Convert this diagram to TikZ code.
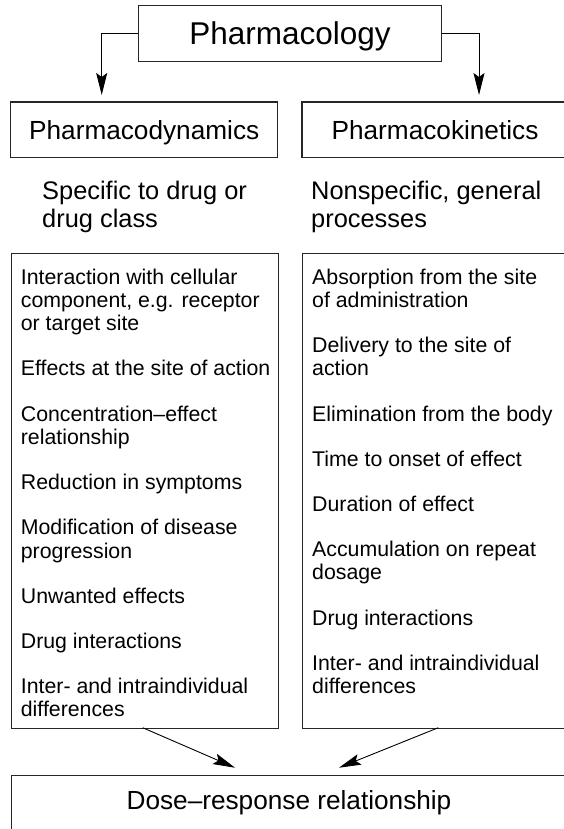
\documentclass[tikz,border=0pt]{standalone}
\usepackage{fontspec}
\setmainfont{Liberation Sans}
\usetikzlibrary{arrows.meta}
\begin{document}
\begin{tikzpicture}[x=1pt,y=-1pt,
  box/.style={draw=black!85, line width=1.1pt, inner sep=0pt, rectangle},
  flow/.style={draw=black, line width=0.9pt, -{Stealth[length=22pt,width=11pt,inset=4pt]}},
  titletext/.style={font=\fontsize{31.5}{36}\selectfont, text height=23pt, text depth=0pt},
  headtext/.style={font=\fontsize{26.2}{30}\selectfont, text height=18.8pt, text depth=0pt},
  subtext/.style={font=\fontsize{25.4}{28.4}\selectfont, align=left, anchor=base west, inner sep=0pt},
  itemtext/.style={font=\fontsize{21.3}{23.3}\selectfont, align=left, anchor=base west, inner sep=0pt},
]
\useasboundingbox (0,0) rectangle (564,829);

% top level
\node[box, titletext, minimum width=302.6pt, minimum height=55.6pt] (pharm) at (290,33.5) {Pharmacology};

% the two branches
\node[box, headtext, minimum width=267pt, minimum height=55.7pt] (pd) at (144.2,129.85) {Pharmacodynamics};
\node[box, headtext, minimum width=266pt, minimum height=55.7pt] (pk) at (435,129.85) {Pharmacokinetics};

\coordinate (pdin) at (101.7,95);
\coordinate (pkin) at (479,95);
\draw[flow] (pharm.west) -| (pdin);
\draw[flow] (pharm.east) -| (pkin);

% short characterisations (anchored on the baseline of their last line)
\node[subtext] (pdsub) at (42,227.7) {Specific to drug or\\drug class};
\node[subtext] (pksub) at (311,227.7) {Nonspecific, general\\processes};

% list boxes
\node[box, anchor=north west, minimum width=267pt, minimum height=475pt] (pdlist) at (10.7,252.7) {};
\node[box, anchor=north west, minimum width=266pt, minimum height=475pt] (pklist) at (302,252.7) {};

% pharmacodynamic items (anchored on the baseline of their last line)
\node[itemtext] (pd1) at (20.7,330.6) {Interaction with cellular\\component, e.g. receptor\\or target site};
\node[itemtext] (pd2) at (20.7,375.8) {Effects at the site of action};
\node[itemtext] (pd3) at (20.7,444.3) {Concentration--effect\\relationship};
\node[itemtext] (pd4) at (20.7,489.5) {Reduction in symptoms};
\node[itemtext] (pd5) at (20.7,558) {Modification of disease\\progression};
\node[itemtext] (pd6) at (20.7,603.2) {Unwanted effects};
\node[itemtext] (pd7) at (20.7,648.4) {Drug interactions};
\node[itemtext] (pd8) at (20.7,716.9) {Inter- and intraindividual\\differences};

% pharmacokinetic items
\node[itemtext] (pk1) at (312,307.3) {Absorption from the site\\of administration};
\node[itemtext] (pk2) at (312,375.8) {Delivery to the site of\\action};
\node[itemtext] (pk3) at (312,421) {Elimination from the body};
\node[itemtext] (pk4) at (312,466.2) {Time to onset of effect};
\node[itemtext] (pk5) at (312,511.4) {Duration of effect};
\node[itemtext] (pk6) at (312,579.9) {Accumulation on repeat\\dosage};
\node[itemtext] (pk7) at (312,625.1) {Drug interactions};
\node[itemtext] (pk8) at (312,693.6) {Inter- and intraindividual\\differences};

% outcome
\node[box, anchor=north west, minimum width=557.3pt, minimum height=90pt] (dosebox) at (10.7,775) {};
\node[font=\fontsize{26.2}{30}\selectfont, anchor=base, inner sep=0pt] (dose) at (289,809) {Dose--response relationship};

\coordinate (pdout) at (142.7,727.7);
\coordinate (pkout) at (438.3,727.7);
\coordinate (dosein1) at (235,767.7);
\coordinate (dosein2) at (339,767.7);
\draw[flow] (pdout) -- (dosein1);
\draw[flow] (pkout) -- (dosein2);
\end{tikzpicture}
\end{document}
